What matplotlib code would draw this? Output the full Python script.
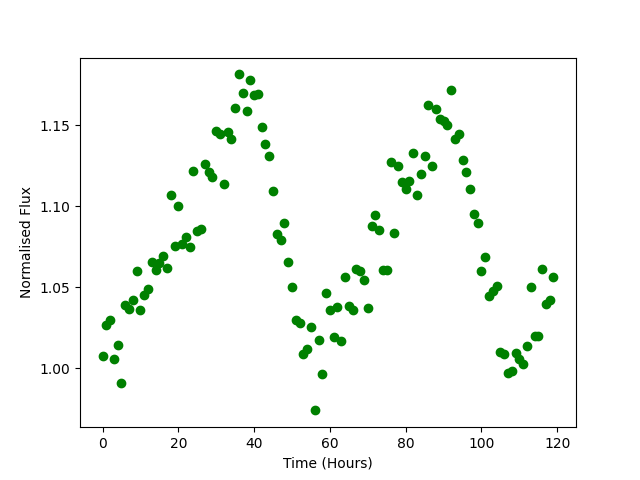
import matplotlib
matplotlib.use("Agg")
import matplotlib.pyplot as plt

# hourly samples, normalised flux
time_hours = list(range(0, 120))
flux = [
    1.0074, 1.027, 1.030, 1.006, 1.0146, 0.991, 1.039, 1.0368, 1.042, 1.060,
    1.036, 1.0455, 1.049, 1.0656, 1.0605, 1.065, 1.0696, 1.062, 1.107, 1.0753,
    1.1004, 1.0767, 1.081, 1.075, 1.122, 1.0848, 1.0862, 1.126, 1.1214, 1.1183,
    1.1463, 1.1449, 1.114, 1.146, 1.1415, 1.161, 1.1815, 1.170, 1.159, 1.178,
    1.1689, 1.1696, 1.1492, 1.1387, 1.1313, 1.1097, 1.0827, 1.0794, 1.0899, 1.0654,
    1.0504, 1.0296, 1.0282, 1.0091, 1.0117, 1.0257, 0.974, 1.0177, 0.9967, 1.0467,
    1.0362, 1.0196, 1.0379, 1.0171, 1.0566, 1.0383, 1.0362, 1.0611, 1.0599, 1.0543,
    1.0375, 1.0881, 1.0944, 1.0856, 1.0605, 1.0605, 1.1272, 1.0838, 1.1251, 1.1150,
    1.1109, 1.1154, 1.1331, 1.1068, 1.1201, 1.1311, 1.1623, 1.1251, 1.1602, 1.1539,
    1.1525, 1.1502, 1.172, 1.1415, 1.1449, 1.1284, 1.1214, 1.1109, 1.0951, 1.0899,
    1.0603, 1.0689, 1.0444, 1.0477, 1.0506, 1.0099, 1.0091, 0.9973, 0.9981, 1.0093,
    1.006, 1.0025, 1.014, 1.0504, 1.0198, 1.0198, 1.0611, 1.0399, 1.0420, 1.0566,
]

plt.figure(figsize=(6.4, 4.8), dpi=100)
plt.plot(time_hours, flux, 'o', color='green')
plt.xlabel('Time (Hours)')
plt.ylabel('Normalised Flux')
plt.savefig('out.png')
